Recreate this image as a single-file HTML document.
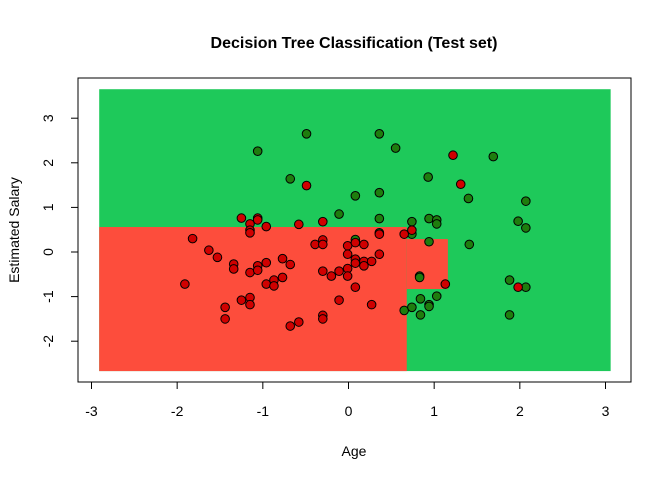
<!DOCTYPE html>
<html><head><meta charset="utf-8"><style>
html,body{margin:0;padding:0;background:#fff;}
svg{display:block;font-family:"Liberation Sans",Arial,sans-serif;}
</style></head><body>
<svg id="chart" width="672" height="480">
<text x="354" y="48" text-anchor="middle" font-size="16" font-weight="bold">Decision Tree Classification (Test set)</text>
<g id="regions"></g>
<g id="pts"></g>
<rect x="78" y="78" width="553" height="304" fill="none" stroke="#000" stroke-width="1"/>
<g id="xaxis"></g>
<g id="yaxis"></g>
<text x="354" y="456" text-anchor="middle" font-size="14">Age</text>
<text transform="translate(19,230) rotate(-90)" text-anchor="middle" font-size="14">Estimated Salary</text>
</svg>
<script>
const xTicks=[-3,-2,-1,0,1,2,3];
const yTicks=[-2,-1,0,1,2,3];
const regionX0=[-2.91,-2.91,0.68];
const regionX1=[3.06,0.68,1.16];
const regionY0=[-2.67,-2.67,-0.83];
const regionY1=[3.65,0.56,0.29];
const regionClass=[1,0,0];
const redX=[-1.25,-1.06,-1.06,-1.15,-0.96,-1.15,-1.15,-1.82,-1.63,-1.53,-1.34,-1.34,-1.15,-1.06,-1.06,-0.96,-1.91,-0.96,-1.25,-1.15,-1.15,-1.44,-1.44,-0.58,-0.30,0.36,0.74,0.65,-0.39,-0.30,-0.30,-0.01,0.08,0.18,-0.01,0.36,0.08,0.08,0.18,0.18,0.27,-0.77,-0.68,-0.87,-0.87,-0.77,-0.30,-0.20,-0.11,-0.01,-0.01,0.08,1.13,-0.11,0.27,-0.30,-0.30,-0.58,-0.68,1.22,-0.49,1.31,1.98];
const redY=[0.76,0.76,0.72,0.63,0.57,0.49,0.43,0.30,0.04,-0.12,-0.27,-0.38,-0.46,-0.31,-0.41,-0.24,-0.72,-0.72,-1.08,-1.02,-1.18,-1.24,-1.50,0.62,0.68,0.40,0.49,0.40,0.17,0.27,0.17,0.14,0.21,0.17,-0.05,-0.05,-0.16,-0.25,-0.21,-0.31,-0.21,-0.15,-0.28,-0.63,-0.76,-0.57,-0.43,-0.54,-0.43,-0.37,-0.54,-0.79,-0.72,-1.08,-1.18,-1.42,-1.50,-1.57,-1.66,2.17,1.49,1.52,-0.79];
const greenX=[-0.11,0.36,0.36,0.74,0.74,0.94,1.03,1.03,0.94,0.08,0.83,0.83,0.65,0.74,0.84,1.03,0.94,0.94,0.84,-0.49,0.36,-1.06,0.55,1.69,-0.68,0.93,0.08,0.36,1.40,2.07,1.98,2.07,1.41,1.88,2.07,1.88];
const greenY=[0.85,0.75,0.43,0.68,0.40,0.75,0.72,0.63,0.23,0.28,-0.54,-0.57,-1.31,-1.24,-1.05,-0.99,-1.18,-1.22,-1.41,2.65,2.65,2.26,2.33,2.14,1.64,1.68,1.26,1.33,1.20,1.14,0.69,0.54,0.17,-0.63,-0.79,-1.41];

const NS="http://www.w3.org/2000/svg";
const sx=v=>348.5+v*85.67;
const sy=v=>252-v*44.6;
function mk(tag,attrs,parent){const e=document.createElementNS(NS,tag);for(const k in attrs)e.setAttribute(k,attrs[k]);parent.appendChild(e);return e;}

const reg=document.getElementById('regions');
for(let i=0;i<regionX0.length;i++){
  const r=mk('rect',{x:sx(regionX0[i]),y:sy(regionY1[i]),width:sx(regionX1[i])-sx(regionX0[i]),height:sy(regionY0[i])-sy(regionY1[i]),fill:regionClass[i]?'#1EC95A':'#FD4D3C'},reg);
  
  
}
const pg=document.getElementById('pts');
for(let i=0;i<greenX.length;i++){
  const c=mk('circle',{cx:sx(greenX[i]),cy:sy(greenY[i]),r:4.3,fill:'#1E7D0E',stroke:'#000','stroke-width':1},pg);
  
  
}
for(let i=0;i<redX.length;i++){
  const c=mk('circle',{cx:sx(redX[i]),cy:sy(redY[i]),r:4.3,fill:'#D00000',stroke:'#000','stroke-width':1},pg);
  
  
}
const xa=document.getElementById('xaxis');
mk('line',{x1:sx(xTicks[0]),x2:sx(xTicks[xTicks.length-1]),y1:382,y2:382,stroke:'#000'},xa);
xTicks.forEach(t=>{
  mk('line',{x1:sx(t),x2:sx(t),y1:382,y2:389,stroke:'#000'},xa);
  const tx=mk('text',{x:sx(t),y:416,'text-anchor':'middle','font-size':14},xa);
  tx.textContent=t;
  
  
});
const ya=document.getElementById('yaxis');
mk('line',{x1:78,x2:78,y1:sy(yTicks[0]),y2:sy(yTicks[yTicks.length-1]),stroke:'#000'},ya);
yTicks.forEach(t=>{
  mk('line',{x1:71,x2:78,y1:sy(t),y2:sy(t),stroke:'#000'},ya);
  const tx=mk('text',{transform:`translate(53,${sy(t)}) rotate(-90)`,'text-anchor':'middle','font-size':14},ya);
  tx.textContent=t;
  
  
});
</script>
</body></html>
